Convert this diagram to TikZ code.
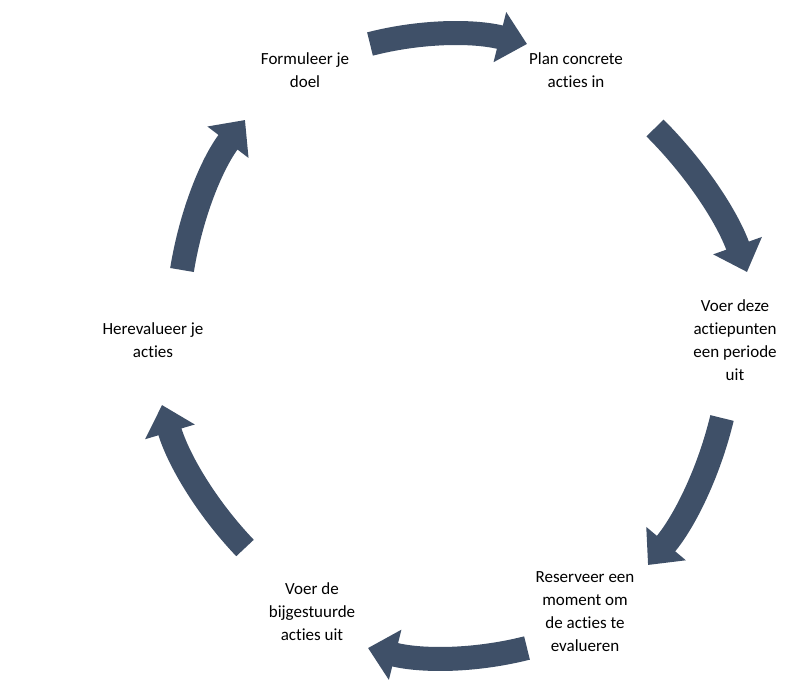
\documentclass[tikz,border=0pt]{standalone}
\usepackage{fontspec}
\setmainfont[Ligatures=NoCommon]{Carlito}
\usetikzlibrary{arrows.meta,calc}
\definecolor{arr}{HTML}{3F5068}
\begin{document}
\begin{tikzpicture}[x=1pt,y=-1pt,
  lbl/.style={align=center,font=\fontsize{17}{23}\selectfont,text=black},
  cyc/.style={draw=arr,line width=24pt,-{Triangle[width=50pt,length=28pt]}}]
\useasboundingbox (0,0) rectangle (800,685);
\fill[white] (0,0) rectangle (800,685);
\node[lbl] (n1) at (305,70) {Formuleer je\\doel};
\node[lbl] (n2) at (576,70) {Plan concrete\\acties in};
\node[lbl] (n3) at (735,340) {Voer deze\\actiepunten\\een periode\\uit};
\node[lbl] (n4) at (585,612) {Reserveer een\\moment om\\de acties te\\evalueren};
\node[lbl] (n5) at (312,612) {Voer de\\bijgestuurde\\acties uit};
\node[lbl] (n6) at (153,340) {Herevalueer je\\acties};
\coordinate (a1s) at (370,44); \coordinate (a1e) at (527,44); \coordinate (q1) at (448,24);
\coordinate (a2s) at (655,128); \coordinate (a2e) at (747,272); \coordinate (q2) at (718,191);
\coordinate (a3s) at (722,418); \coordinate (a3e) at (648,565); \coordinate (q3) at (702,501);
\coordinate (a4s) at (527,648); \coordinate (a4e) at (368,648); \coordinate (q4) at (448,668);
\coordinate (a5s) at (245,548); \coordinate (a5e) at (162,405); \coordinate (q5) at (186,486);
\coordinate (a6s) at (182,270); \coordinate (a6e) at (245,120); \coordinate (q6) at (196,184);
\foreach \i in {1,...,6}
  \draw[cyc] (a\i s) .. controls ($(a\i s)!2/3!(q\i)$) and ($(a\i e)!2/3!(q\i)$) .. (a\i e);
\end{tikzpicture}
\end{document}
